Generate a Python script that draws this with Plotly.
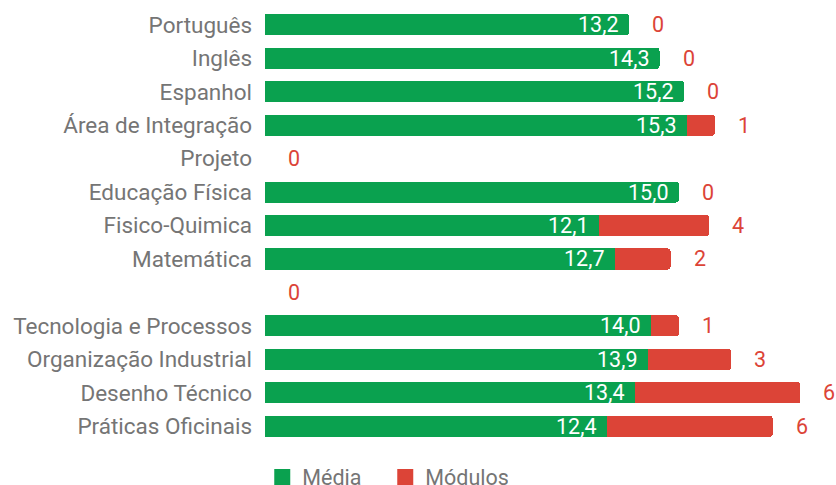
import plotly.graph_objects as go

# Disciplinas (top to bottom); the blank row separates the two groups
disciplinas = [
    "Português", "Inglês", "Espanhol", "Área de Integração", "Projeto",
    "Educação Física", "Fisico-Quimica", "Matemática", " ",
    "Tecnologia e Processos", "Organização Industrial", "Desenho Técnico",
    "Práticas Oficinais",
]
media = [13.2, 14.3, 15.2, 15.3, None, 15.0, 12.1, 12.7, None, 14.0, 13.9, 13.4, 12.4]
modulos = [0, 0, 0, 1, 0, 0, 4, 2, 0, 1, 3, 6, 6]

VERDE = "#0AA14F"
VERMELHO = "#DC4437"
CINZA = "#757575"
FONTE = "Roboto"
TAM = 22.5

fig = go.Figure()
fig.add_trace(go.Bar(
    y=disciplinas, x=media, orientation="h", name="Média",
    marker=dict(color=VERDE, line=dict(width=0)),
    showlegend=False, hoverinfo="skip",
))
fig.add_trace(go.Bar(
    y=disciplinas, x=modulos, orientation="h", name="Módulos",
    marker=dict(color=VERMELHO, line=dict(width=0)),
    showlegend=False, hoverinfo="skip",
))

for d, m, v in zip(disciplinas, media, modulos):
    # average written inside the green bar, near its end
    if m:
        fig.add_annotation(
            x=m, y=d, text=f"{m:.1f}".replace(".", ","), showarrow=False,
            xanchor="right", xshift=-9, yshift=0,
            font=dict(family=FONTE, size=21.5, color="white"),
        )
    # module count written to the right of the stacked bar
    fig.add_annotation(
        x=(m or 0) + v, y=d, text=str(v), showarrow=False,
        xanchor="center", xshift=29,
        font=dict(family=FONTE, size=21.5, color=VERMELHO),
    )

# Legend entries with larger square swatches
for nome, cor in [("Média", VERDE), ("Módulos", VERMELHO)]:
    fig.add_trace(go.Scatter(
        x=[None], y=[None], mode="markers", name=nome,
        marker=dict(symbol="square", size=18, color=cor),
        showlegend=True,
    ))

fig.update_layout(
    width=836, height=485,
    barmode="stack", bargap=0.37, barcornerradius=3,
    paper_bgcolor="white", plot_bgcolor="white",
    margin=dict(l=265, r=22, t=8, b=42, autoexpand=False),
    font=dict(family=FONTE, size=TAM, color=CINZA),
    xaxis=dict(range=[0, 19.9], visible=False, fixedrange=True),
    yaxis=dict(
        categoryorder="array", categoryarray=disciplinas,
        autorange="reversed", showgrid=False, zeroline=False,
        showline=False, ticks="", ticklabelstandoff=12,
        tickfont=dict(family=FONTE, size=TAM, color=CINZA),
    ),
    legend=dict(
        orientation="h", traceorder="normal",
        x=-0.005, xanchor="left", y=-0.078, yanchor="middle",
        font=dict(family=FONTE, size=21.5, color=CINZA),
        itemwidth=30, entrywidth=78, bgcolor="rgba(0,0,0,0)",
    ),
    showlegend=True,
)

fig.write_html("out.html")
